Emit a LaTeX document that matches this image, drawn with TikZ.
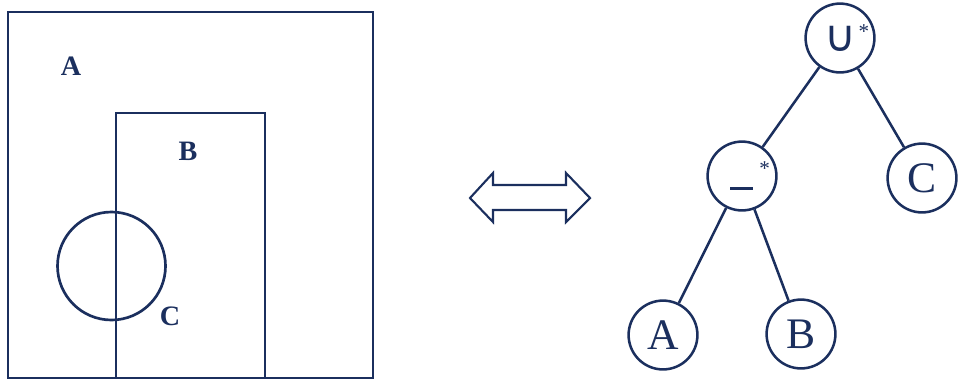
\documentclass[tikz,border=0pt]{standalone}
\usepackage{fontspec}
\setmainfont{Liberation Serif}
\newfontfamily\symfont{DejaVu Sans}
\usetikzlibrary{positioning}
\definecolor{Navy}{HTML}{1B2F5E}
\tikzset{
  setline/.style={draw=Navy, line width=1.9pt},
  setlabel/.style={font=\fontsize{20}{22}\selectfont\bfseries, text=Navy},
  treenode/.style={circle, draw=Navy, line width=1.8pt, minimum size=1.72cm,
    inner sep=0pt, font=\fontsize{31}{33}\selectfont, text=Navy},
  treeedge/.style={draw=Navy, line width=1.8pt},
}
\begin{document}
\begin{tikzpicture}[x=0.025cm, y=-0.025cm]
        \useasboundingbox (0,0) rectangle (958,383);
        % set picture
        \draw[setline] (8,12) rectangle (373,378);
        \draw[setline] (116,378) -- (116,113) -- (265,113) -- (265,378);
        \draw[setline] (111.5,266) circle[radius=54*0.025cm];
        \node[setlabel] (labA) at (71,66) {A};
        \node[setlabel] (labB) at (188,151) {B};
        \node[setlabel] (labC) at (170,316) {C};
        % equivalence
        \draw[setline, line width=1.5pt, line join=miter]
          (470,198) -- (493,173) -- (493,185) -- (566,185) -- (566,173)
          -- (590,198) -- (566,222) -- (566,210) -- (493,210) -- (493,222)
          -- cycle;
        % expression tree
        \node[treenode] (uni) at (840,38)
          {\hspace{0.35cm}\raisebox{-0.17cm}{\symfont\fontsize{31}{31}\selectfont ∪}\hspace{0.05cm}\raisebox{0.17cm}{\fontsize{15}{15}\selectfont *}};
        \node[treenode] (dif) at (742,176)
          {\hspace{0.4cm}\rule[-0.2cm]{0.58cm}{0.065cm}\hspace{0.15cm}\raisebox{0.15cm}{\fontsize{15}{15}\selectfont *}};
        \node[treenode] (nc) at (922,178) {C};
        \node[treenode] (na) at (663,335) {A};
        \node[treenode] (nb) at (801,334) {B};
        \draw[treeedge] (uni) -- (dif);
        \draw[treeedge] (uni) -- (nc);
        \draw[treeedge] (dif) -- (na);
        \draw[treeedge] (dif) -- (nb);
      \end{tikzpicture}
\end{document}
